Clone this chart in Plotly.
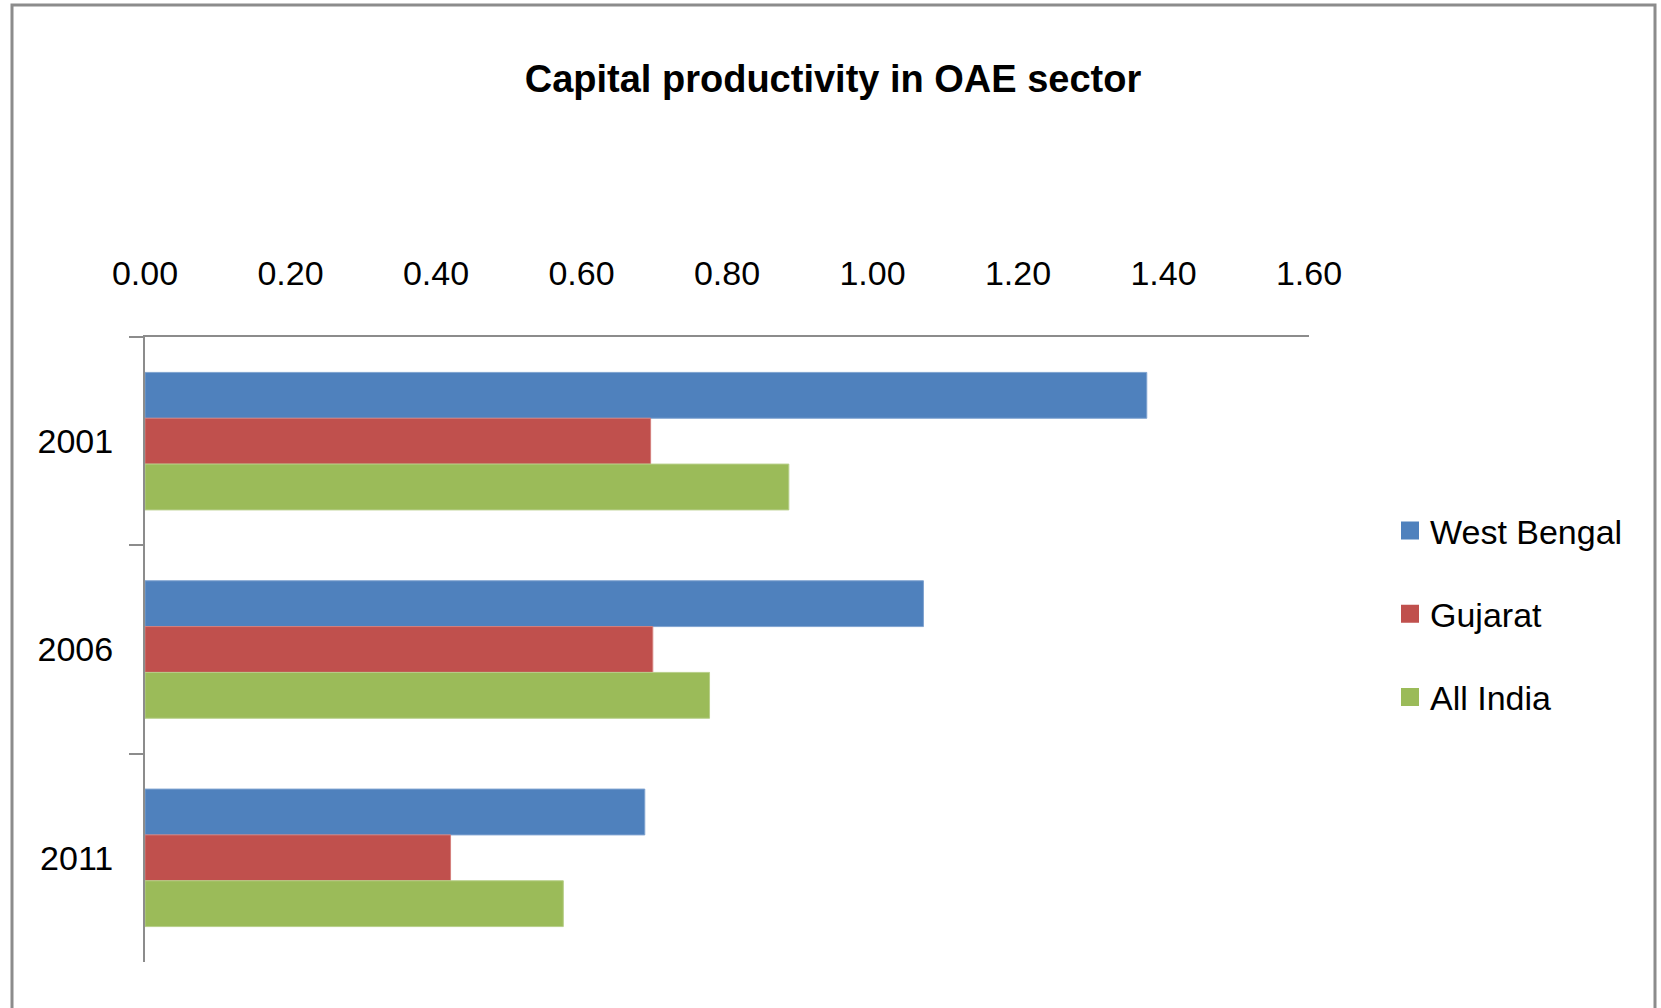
import plotly.graph_objects as go

# Capital productivity (output per unit of capital) in the OAE sector
years = ["2001", "2006", "2011"]
west_bengal = [1.377, 1.070, 0.687]
gujarat = [0.695, 0.698, 0.420]
all_india = [0.885, 0.776, 0.575]

series_names = ["West Bengal", "Gujarat", "All India"]
series_colors = ["#4F81BD", "#C0504D", "#9BBB59"]
series_edges = ["#7FA3D0", "#D47F7C", "#B7CF89"]

x_ticks = [0.0, 0.2, 0.4, 0.6, 0.8, 1.0, 1.2, 1.4, 1.6]
x_tick_text = ["0.00", "0.20", "0.40", "0.60", "0.80", "1.00", "1.20", "1.40", "1.60"]

FONT = "Liberation Sans, Arial, sans-serif"
TICK_SIZE = 34

W, H = 1661, 1008
L, R, T, B = 145, 352, 337, 46
PW, PH = W - L - R, H - T - B

fig = go.Figure()
for i, (name, vals) in enumerate(zip(series_names, [west_bengal, gujarat, all_india])):
    fig.add_trace(go.Bar(
        name=name,
        y=years,
        x=vals,
        orientation="h",
        showlegend=False,
        marker=dict(color=series_colors[i], line=dict(color=series_edges[i], width=1)),
    ))

# square swatches for the legend entries
for i, name in enumerate(series_names):
    fig.add_trace(go.Scatter(
        name=name,
        x=[None],
        y=[None],
        mode="markers",
        legendgroup=name,
        marker=dict(symbol="square", size=16, color=series_colors[i],
                    line=dict(color=series_colors[i], width=2)),
        hoverinfo="skip",
    ))

fig.update_layout(
    width=W,
    height=H,
    margin=dict(l=L, r=R, t=T, b=B),
    paper_bgcolor="white",
    plot_bgcolor="white",
    barmode="group",
    bargap=0.34,
    bargroupgap=0,
    font=dict(family=FONT, color="#000000", size=TICK_SIZE),
    title=dict(
        text="<b>Capital productivity in OAE sector</b>",
        x=833 / W,
        xanchor="center",
        y=1 - 79 / H,
        yanchor="middle",
        font=dict(family=FONT, size=38, color="#000000"),
    ),
    legend=dict(
        x=(1390 - L) / PW,
        xanchor="left",
        y=1 - (502 - T) / PH,
        yanchor="top",
        traceorder="grouped",
        tracegroupgap=36,
        font=dict(family=FONT, size=TICK_SIZE, color="#000000"),
        bgcolor="rgba(0,0,0,0)",
    ),
    xaxis=dict(
        side="top",
        range=[0, 1.6],
        tickvals=x_ticks,
        ticktext=x_tick_text,
        showgrid=False,
        zeroline=False,
        showline=True,
        linecolor="#8C8C8C",
        linewidth=2,
        ticks="",
        ticklabelstandoff=36,
        tickfont=dict(family=FONT, size=TICK_SIZE, color="#000000"),
    ),
    yaxis=dict(
        autorange="reversed",
        type="category",
        showgrid=False,
        zeroline=False,
        showline=True,
        linecolor="#8C8C8C",
        linewidth=2,
        ticks="outside",
        tickson="boundaries",
        ticklen=14,
        tickcolor="#8C8C8C",
        tickwidth=2,
        ticklabelstandoff=23,
        tickfont=dict(family=FONT, size=TICK_SIZE, color="#000000"),
    ),
    shapes=[
        dict(
            type="rect",
            xref="paper", yref="paper",
            x0=(12 - L) / PW,
            x1=(1655 - L) / PW,
            y0=-0.2,
            y1=1 + (T - 5) / PH,
            line=dict(color="#8C8C8C", width=3),
            fillcolor="rgba(0,0,0,0)",
            layer="below",
        )
    ],
)

fig.write_html("out.html")
